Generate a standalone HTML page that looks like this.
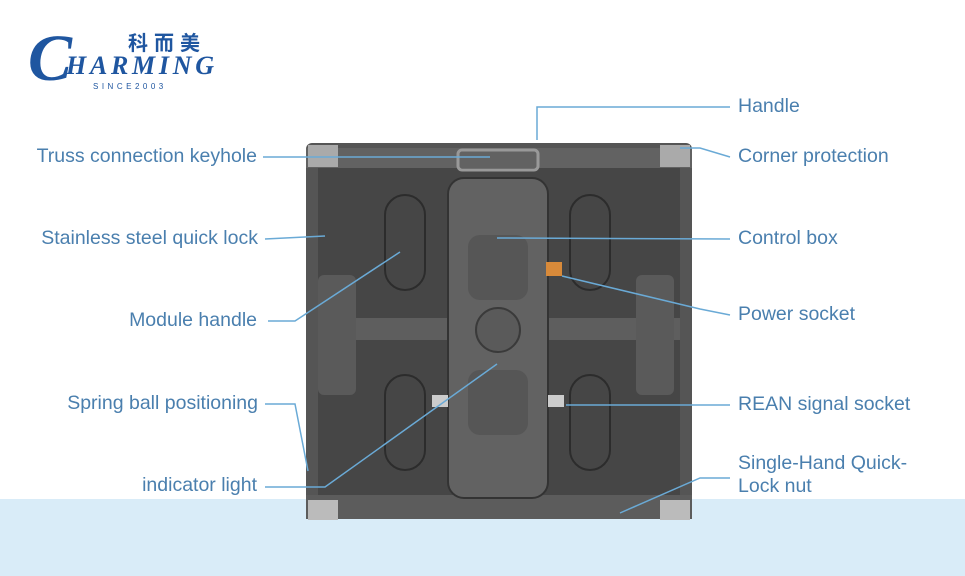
<!DOCTYPE html>
<html><head><meta charset="utf-8"><style>
html,body{margin:0;padding:0;background:#fff;}
body{width:965px;height:576px;overflow:hidden;position:relative;font-family:"Liberation Sans","Noto Sans CJK SC",sans-serif;}
.band{position:absolute;left:0;top:499px;width:965px;height:77px;background:#d9ecf8;}
.t{position:absolute;color:#4a7fae;font-size:19.5px;line-height:23px;white-space:nowrap;}
.r{text-align:right;}
</style></head><body>
<div class="band"></div>
<svg width="965" height="576" style="position:absolute;left:0;top:0">
<!-- logo -->
<text x="28" y="80" font-family="Liberation Serif,serif" font-style="italic" font-weight="bold" font-size="66" fill="#1f56a0">C</text>
<text x="66" y="74" font-family="Liberation Serif,serif" font-style="italic" font-weight="bold" font-size="26" fill="#1f56a0" textLength="148">HARMING</text>
<text x="128" y="50" font-family="Noto Sans CJK SC,sans-serif" font-weight="bold" font-size="20" fill="#1f56a0" letter-spacing="6">科而美</text>
<text x="93" y="89" font-family="Liberation Sans,sans-serif" font-size="8" fill="#1f56a0" letter-spacing="3.5">SINCE2003</text>
<!-- cabinet -->
<rect x="306" y="143" width="386" height="376" rx="6" fill="#555"/>
<rect x="318" y="160" width="362" height="345" fill="#464646"/>
<rect x="306" y="148" width="386" height="20" fill="#626262"/>
<rect x="306" y="495" width="386" height="24" fill="#5c5c5c"/>
<rect x="318" y="318" width="362" height="22" fill="#5e5e5e"/>
<rect x="385" y="195" width="40" height="95" rx="20" fill="none" stroke="#2c2c2c" stroke-width="2"/>
<rect x="570" y="195" width="40" height="95" rx="20" fill="none" stroke="#2c2c2c" stroke-width="2"/>
<rect x="385" y="375" width="40" height="95" rx="20" fill="none" stroke="#2c2c2c" stroke-width="2"/>
<rect x="570" y="375" width="40" height="95" rx="20" fill="none" stroke="#2c2c2c" stroke-width="2"/>
<rect x="318" y="275" width="38" height="120" rx="6" fill="#5a5a5a"/>
<rect x="636" y="275" width="38" height="120" rx="6" fill="#5a5a5a"/>
<rect x="448" y="178" width="100" height="320" rx="16" fill="#626262" stroke="#333" stroke-width="2"/>
<rect x="468" y="235" width="60" height="65" rx="12" fill="#565656"/>
<rect x="468" y="370" width="60" height="65" rx="12" fill="#565656"/>
<circle cx="498" cy="330" r="22" fill="#5a5a5a" stroke="#3a3a3a" stroke-width="2"/>
<rect x="458" y="150" width="80" height="20" rx="4" fill="none" stroke="#999" stroke-width="3"/>
<rect x="546" y="262" width="16" height="14" fill="#d88a3a"/>
<rect x="432" y="395" width="16" height="12" fill="#ccc"/>
<rect x="548" y="395" width="16" height="12" fill="#ccc"/>
<rect x="308" y="500" width="30" height="20" fill="#bbb"/>
<rect x="660" y="500" width="30" height="20" fill="#bbb"/>
<rect x="308" y="145" width="30" height="22" fill="#aaa"/>
<rect x="660" y="145" width="30" height="22" fill="#aaa"/>
<!-- lines -->
<g stroke="#6aaad6" stroke-width="1.5" fill="none">
<polyline points="537,140 537,107 730,107"/>
<polyline points="263,157 490,157"/>
<polyline points="680,148 700,148 730,157"/>
<polyline points="265,239 325,236"/>
<polyline points="497,238 730,239"/>
<polyline points="268,321 295,321 400,252"/>
<polyline points="562,276 700,309 730,315"/>
<polyline points="566,405 730,405"/>
<polyline points="265,404 295,404 308,471"/>
<polyline points="265,487 325,487 497,364"/>
<polyline points="620,513 700,478 730,478"/>
</g>
</svg>
<div class="t r" style="right:708px;top:145px">Truss connection keyhole</div>
<div class="t r" style="right:707px;top:227px">Stainless steel quick lock</div>
<div class="t r" style="right:708px;top:309px">Module handle</div>
<div class="t r" style="right:707px;top:392px">Spring ball positioning</div>
<div class="t r" style="right:708px;top:474px">indicator light</div>
<div class="t" style="left:738px;top:95px">Handle</div>
<div class="t" style="left:738px;top:145px">Corner protection</div>
<div class="t" style="left:738px;top:227px">Control box</div>
<div class="t" style="left:738px;top:303px">Power socket</div>
<div class="t" style="left:738px;top:393px">REAN signal socket</div>
<div class="t" style="left:738px;top:452px">Single-Hand Quick-<br>Lock nut</div>
</body></html>
